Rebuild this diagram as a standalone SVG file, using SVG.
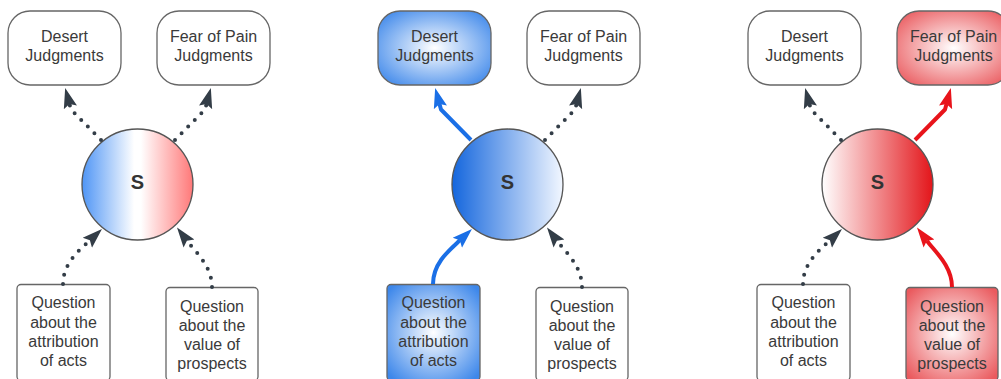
<svg xmlns="http://www.w3.org/2000/svg" width="1001" height="379" viewBox="0 0 1001 379">
  <style>
    .lbl { font-family: "Liberation Sans", Arial, sans-serif; font-size: 16px; fill: #3a3a3a; text-anchor: middle; }
    .s { font-family: "Liberation Sans", Arial, sans-serif; font-size: 20px; font-weight: bold; fill: #333333; text-anchor: middle; }
    .top { stroke: #666666; stroke-width: 1.3; }
    .bot { stroke: #666666; stroke-width: 1.3; }
    .circ { stroke: #555555; stroke-width: 1.3; }
    .dot { fill: none; stroke: #333d47; stroke-width: 4; stroke-dasharray: 0 9.4; stroke-linecap: round; marker-end: url(#ahD); }
    .blue { fill: none; stroke: #1a6fe6; stroke-width: 4; stroke-linejoin: round; marker-end: url(#ahB); }
    .red { fill: none; stroke: #e8141b; stroke-width: 4; stroke-linejoin: round; marker-end: url(#ahR); }
  </style>
  <defs>
    <marker id="ahD" viewBox="0 0 20 16" refX="3.5" refY="8" markerWidth="20" markerHeight="16" markerUnits="userSpaceOnUse" orient="auto">
      <path d="M0,1.2 L20,8 L0,14.8 L3.5,8 Z" fill="#333d47"/>
    </marker>
    <marker id="ahB" viewBox="0 0 20 16" refX="3.5" refY="8" markerWidth="20" markerHeight="16" markerUnits="userSpaceOnUse" orient="auto">
      <path d="M0,1.2 L20,8 L0,14.8 L3.5,8 Z" fill="#1a6fe6"/>
    </marker>
    <marker id="ahR" viewBox="0 0 20 16" refX="3.5" refY="8" markerWidth="20" markerHeight="16" markerUnits="userSpaceOnUse" orient="auto">
      <path d="M0,1.2 L20,8 L0,14.8 L3.5,8 Z" fill="#e8141b"/>
    </marker>
    <linearGradient id="gMix" x1="0" y1="0" x2="1" y2="0">
      <stop offset="0" stop-color="#4f95f5"/>
      <stop offset="0.47" stop-color="#ffffff"/>
      <stop offset="0.53" stop-color="#ffffff"/>
      <stop offset="1" stop-color="#ff7878"/>
    </linearGradient>
    <linearGradient id="gBlue" x1="0" y1="0" x2="1" y2="0">
      <stop offset="0" stop-color="#1466dd"/>
      <stop offset="1" stop-color="#f2f7ff"/>
    </linearGradient>
    <linearGradient id="gRed" x1="0" y1="0" x2="1" y2="0">
      <stop offset="0" stop-color="#ffffff"/>
      <stop offset="1" stop-color="#e3151a"/>
    </linearGradient>
    <radialGradient id="rBlue" cx="0.5" cy="0.5" r="0.65">
      <stop offset="0" stop-color="#ffffff"/>
      <stop offset="1" stop-color="#3d87ea"/>
    </radialGradient>
    <radialGradient id="rRed" cx="0.5" cy="0.5" r="0.65">
      <stop offset="0" stop-color="#ffffff"/>
      <stop offset="1" stop-color="#ea5a5e"/>
    </radialGradient>
  </defs>

  <!-- Panel 1 -->
  <g id="p1-desert">
    <rect class="top" x="8" y="11" width="113" height="74" rx="22" fill="#ffffff"/>
    <text class="lbl" x="64.5" y="42">Desert</text>
    <text class="lbl" x="64.5" y="61">Judgments</text>
  </g>
  <g id="p1-fear">
    <rect class="top" x="157" y="11" width="113" height="74" rx="22" fill="#ffffff"/>
    <text class="lbl" x="213.5" y="42">Fear of Pain</text>
    <text class="lbl" x="213.5" y="61">Judgments</text>
  </g>
  <g id="p1-s">
    <circle class="circ" cx="137.5" cy="184.5" r="55.5" fill="url(#gMix)"/>
    <text class="s" x="137.5" y="188.5">S</text>
  </g>
  <g id="p1-attr">
    <rect class="bot" x="17" y="284.5" width="93" height="96" rx="4" fill="#ffffff"/>
    <text class="lbl" x="63.5" y="308.3">Question</text>
    <text class="lbl" x="63.5" y="327.5">about the</text>
    <text class="lbl" x="63.5" y="346.7">attribution</text>
    <text class="lbl" x="63.5" y="366">of acts</text>
  </g>
  <g id="p1-value">
    <rect class="bot" x="166" y="287.5" width="92" height="93" rx="4" fill="#ffffff"/>
    <text class="lbl" x="212" y="311.5">Question</text>
    <text class="lbl" x="212" y="330.7">about the</text>
    <text class="lbl" x="212" y="349.9">value of</text>
    <text class="lbl" x="212" y="369.1">prospects</text>
  </g>

  <!-- Panel 2 -->
  <g id="p2-desert">
    <rect class="top" x="378" y="11" width="113" height="74" rx="22" fill="url(#rBlue)"/>
    <text class="lbl" x="434.5" y="42">Desert</text>
    <text class="lbl" x="434.5" y="61">Judgments</text>
  </g>
  <g id="p2-fear">
    <rect class="top" x="527" y="11" width="113" height="74" rx="22" fill="#ffffff"/>
    <text class="lbl" x="583.5" y="42">Fear of Pain</text>
    <text class="lbl" x="583.5" y="61">Judgments</text>
  </g>
  <g id="p2-s">
    <circle class="circ" cx="507.5" cy="184.5" r="55.5" fill="url(#gBlue)"/>
    <text class="s" x="507.5" y="188.5">S</text>
  </g>
  <g id="p2-attr">
    <rect class="bot" x="387" y="284.5" width="93" height="96" rx="4" fill="url(#rBlue)"/>
    <text class="lbl" x="433.5" y="308.3">Question</text>
    <text class="lbl" x="433.5" y="327.5">about the</text>
    <text class="lbl" x="433.5" y="346.7">attribution</text>
    <text class="lbl" x="433.5" y="366">of acts</text>
  </g>
  <g id="p2-value">
    <rect class="bot" x="536" y="287.5" width="92" height="93" rx="4" fill="#ffffff"/>
    <text class="lbl" x="582" y="311.5">Question</text>
    <text class="lbl" x="582" y="330.7">about the</text>
    <text class="lbl" x="582" y="349.9">value of</text>
    <text class="lbl" x="582" y="369.1">prospects</text>
  </g>

  <!-- Panel 3 -->
  <g id="p3-desert">
    <rect class="top" x="748" y="11" width="113" height="74" rx="22" fill="#ffffff"/>
    <text class="lbl" x="804.5" y="42">Desert</text>
    <text class="lbl" x="804.5" y="61">Judgments</text>
  </g>
  <g id="p3-fear">
    <rect class="top" x="897" y="11" width="113" height="74" rx="22" fill="url(#rRed)"/>
    <text class="lbl" x="953.5" y="42">Fear of Pain</text>
    <text class="lbl" x="953.5" y="61">Judgments</text>
  </g>
  <g id="p3-s">
    <circle class="circ" cx="877.5" cy="184.5" r="55.5" fill="url(#gRed)"/>
    <text class="s" x="877.5" y="188.5">S</text>
  </g>
  <g id="p3-attr">
    <rect class="bot" x="757" y="284.5" width="93" height="96" rx="4" fill="#ffffff"/>
    <text class="lbl" x="803.5" y="308.3">Question</text>
    <text class="lbl" x="803.5" y="327.5">about the</text>
    <text class="lbl" x="803.5" y="346.7">attribution</text>
    <text class="lbl" x="803.5" y="366">of acts</text>
  </g>
  <g id="p3-value">
    <rect class="bot" x="906" y="287.5" width="92" height="93" rx="4" fill="url(#rRed)"/>
    <text class="lbl" x="952" y="311.5">Question</text>
    <text class="lbl" x="952" y="330.7">about the</text>
    <text class="lbl" x="952" y="349.9">value of</text>
    <text class="lbl" x="952" y="369.1">prospects</text>
  </g>

  <g id="connectors">
    <!-- Panel 1 -->
    <path class="dot" d="M101,140 L71,109.5 L69.5,104"/>
    <path class="dot" d="M175,140 L205,109.5 L206.5,104"/>
    <path class="dot" d="M63,284 C63,263 79.7,249.8 89.9,240.3"/>
    <path class="dot" d="M212,287 C212,266 195.3,251.9 186.9,240.7"/>
    <!-- Panel 2 -->
    <path class="blue" d="M471,140 L441,109.5 L439.5,104"/>
    <path class="dot" d="M545,140 L575,109.5 L576.5,104"/>
    <path class="blue" d="M433,284 C433,263 449.7,249.8 459.9,240.3"/>
    <path class="dot" d="M582,287 C582,266 565.3,251.9 556.9,240.7"/>
    <!-- Panel 3 -->
    <path class="dot" d="M841,140 L811,109.5 L809.5,104"/>
    <path class="red" d="M915,140 L945,109.5 L946.5,104"/>
    <path class="dot" d="M803,284 C803,263 819.7,249.8 829.9,240.3"/>
    <path class="red" d="M952,287 C952,266 935.3,251.9 926.9,240.7"/>
  </g>
</svg>
